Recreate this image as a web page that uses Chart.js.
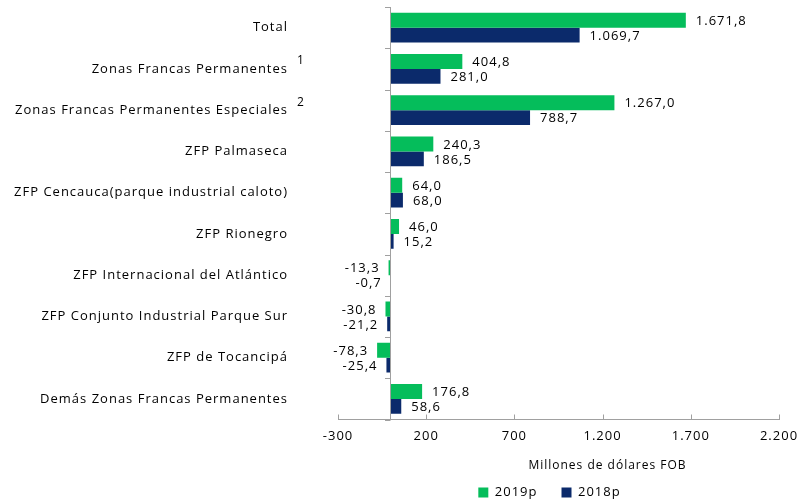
<!DOCTYPE html>
<html>
<head>
<meta charset="utf-8">
<script src="https://cdn.jsdelivr.net/npm/chart.js@4/dist/chart.umd.min.js"></script>
<style>
  html, body { margin: 0; padding: 0; background: #fff; }
  #wrap { width: 802px; height: 504px; position: relative; }
</style>
</head>
<body>
<div id="wrap"><canvas id="c" width="802" height="504"></canvas></div>
<script>
const categories = [
  'Total',
  'Zonas Francas Permanentes',
  'Zonas Francas Permanentes Especiales',
  'ZFP Palmaseca',
  'ZFP Cencauca(parque industrial caloto)',
  'ZFP Rionegro',
  'ZFP Internacional del Atlántico',
  'ZFP Conjunto Industrial Parque Sur',
  'ZFP de Tocancipá',
  'Demás Zonas Francas Permanentes'
];
const superscripts = ['', '1', '2', '', '', '', '', '', '', ''];
const values2019 = [1671.8, 404.8, 1267.0, 240.3, 64.0, 46.0, -13.3, -30.8, -78.3, 176.8];
const values2018 = [1069.7, 281.0, 788.7, 186.5, 68.0, 15.2, -0.7, -21.2, -25.4, 58.6];
const seriesNames = ['2019p', '2018p'];
const xMin = -300, xMax = 2200, xStep = 500;
const axisTitle = 'Millones de dólares FOB';

const FONT = '"Open Sans", "DejaVu Sans", sans-serif';
const AXIS_COLOR = '#A0A0A0';
const LETTER_SPACING = '1px';

function fmt(v, dec) {
  const neg = v < 0;
  const s = Math.abs(v).toFixed(dec);
  const parts = s.split('.');
  const intPart = parts[0].replace(/\B(?=(\d{3})+(?!\d))/g, '.');
  return (neg ? '-' : '') + intPart + (parts[1] ? ',' + parts[1] : '');
}

function setSpacing(chart) {
  if ('letterSpacing' in chart.ctx) chart.ctx.letterSpacing = LETTER_SPACING;
}

const decorPlugin = {
  id: 'decor',
  beforeUpdate(chart) { setSpacing(chart); },
  beforeLayout(chart) { setSpacing(chart); },
  beforeDraw(chart) { setSpacing(chart); },
  afterLayout(chart) {
    const lg = chart.legend;
    if (lg) {
      const d = -9;
      lg.left += d; lg.right += d;
      const h = lg.height;
      lg.top = chart.chartArea.bottom + 42.5;
      lg.bottom = lg.top + h;
    }
  },
  afterDatasetsDraw(chart) {
    const ctx = chart.ctx;
    const xs = chart.scales.x, ys = chart.scales.y;
    const area = chart.chartArea;
    ctx.save();
    setSpacing(chart);
    // zero axis line
    const x0 = xs.getPixelForValue(0);
    ctx.strokeStyle = AXIS_COLOR;
    ctx.lineWidth = 1;
    ctx.beginPath();
    ctx.moveTo(Math.round(x0) - 0.5, area.top);
    ctx.lineTo(Math.round(x0) - 0.5, area.bottom);
    ctx.stroke();
    // y tick marks at category boundaries
    const n = categories.length;
    for (let i = 0; i <= n; i++) {
      let yb;
      if (i === 0) yb = area.top;
      else if (i === n) yb = area.bottom;
      else yb = (ys.getPixelForValue(i - 1) + ys.getPixelForValue(i)) / 2;
      yb = Math.round(yb) + 0.5;
      ctx.beginPath();
      ctx.moveTo(Math.round(x0) - 6, yb);
      ctx.lineTo(Math.round(x0) - 0.5, yb);
      ctx.stroke();
    }
    // x tick marks (pointing up)
    xs.ticks.forEach(t => {
      const px = Math.round(xs.getPixelForValue(t.value)) + 0.5;
      ctx.beginPath();
      ctx.moveTo(px, area.bottom);
      ctx.lineTo(px, area.bottom - 5);
      ctx.stroke();
    });
    // data labels
    ctx.fillStyle = '#000';
    ctx.font = '13px ' + FONT;
    ctx.textBaseline = 'middle';
    chart.data.datasets.forEach((ds, di) => {
      const meta = chart.getDatasetMeta(di);
      meta.data.forEach((el, i) => {
        const v = ds.data[i];
        const txt = fmt(v, 1);
        if (v >= 0) {
          ctx.textAlign = 'left';
          ctx.fillText(txt, Math.max(el.x, el.base) + 10, el.y + 1);
        } else {
          ctx.textAlign = 'right';
          ctx.fillText(txt, Math.min(el.x, el.base) - 9, el.y + 1);
        }
      });
    });
    // superscripts
    ctx.textAlign = 'center';
    ctx.font = '12px ' + FONT;
    superscripts.forEach((s, i) => {
      if (!s) return;
      const py = ys.getPixelForValue(i);
      ctx.fillText(s, area.left - 50 + 13, py - 8);
    });
    // axis title
    ctx.font = '12px ' + FONT;
    ctx.textAlign = 'center';
    ctx.fillText(axisTitle, (area.left + area.right) / 2 + 49, area.bottom + 46);
    ctx.restore();
  }
};

new Chart(document.getElementById('c'), {
  type: 'bar',
  data: {
    labels: categories,
    datasets: [
      { label: seriesNames[0], data: values2019, backgroundColor: '#05BD5B', borderWidth: 0 },
      { label: seriesNames[1], data: values2018, backgroundColor: '#0B2A6B', borderWidth: 0 }
    ]
  },
  options: {
    indexAxis: 'y',
    responsive: false,
    animation: false,
    devicePixelRatio: 1,
    layout: { padding: { top: 7, right: 23, left: 0, bottom: 0 } },
    datasets: { bar: { categoryPercentage: 0.72, barPercentage: 1.0 } },
    scales: {
      x: {
        type: 'linear',
        min: xMin, max: xMax,
        ticks: {
          stepSize: xStep,
          font: { family: FONT, size: 13 },
          color: '#000',
          padding: 9,
          callback: v => fmt(v, 0),
          maxRotation: 0
        },
        grid: { display: false, drawTicks: false },
        border: { display: true, color: AXIS_COLOR, width: 1 },
        afterFit(scale) {
          scale.height = 37.5;
          scale.paddingLeft = 0;
          scale.paddingRight = 0;
        }
      },
      y: {
        type: 'category',
        ticks: {
          font: { family: FONT, size: 13 },
          color: '#000',
          padding: 50,
          autoSkip: false
        },
        grid: { display: false, drawTicks: false },
        border: { display: false },
        afterFit(scale) {
          scale.width = 338;
          scale.paddingTop = 0;
          scale.paddingBottom = 0;
        }
      }
    },
    plugins: {
      legend: {
        position: 'bottom',
        fullSize: false,
        labels: {
          boxWidth: 10, boxHeight: 10, padding: 24,
          font: { family: FONT, size: 13 },
          color: '#000'
        }
      },
      tooltip: { enabled: false }
    }
  },
  plugins: [decorPlugin]
});
</script>
</body>
</html>
